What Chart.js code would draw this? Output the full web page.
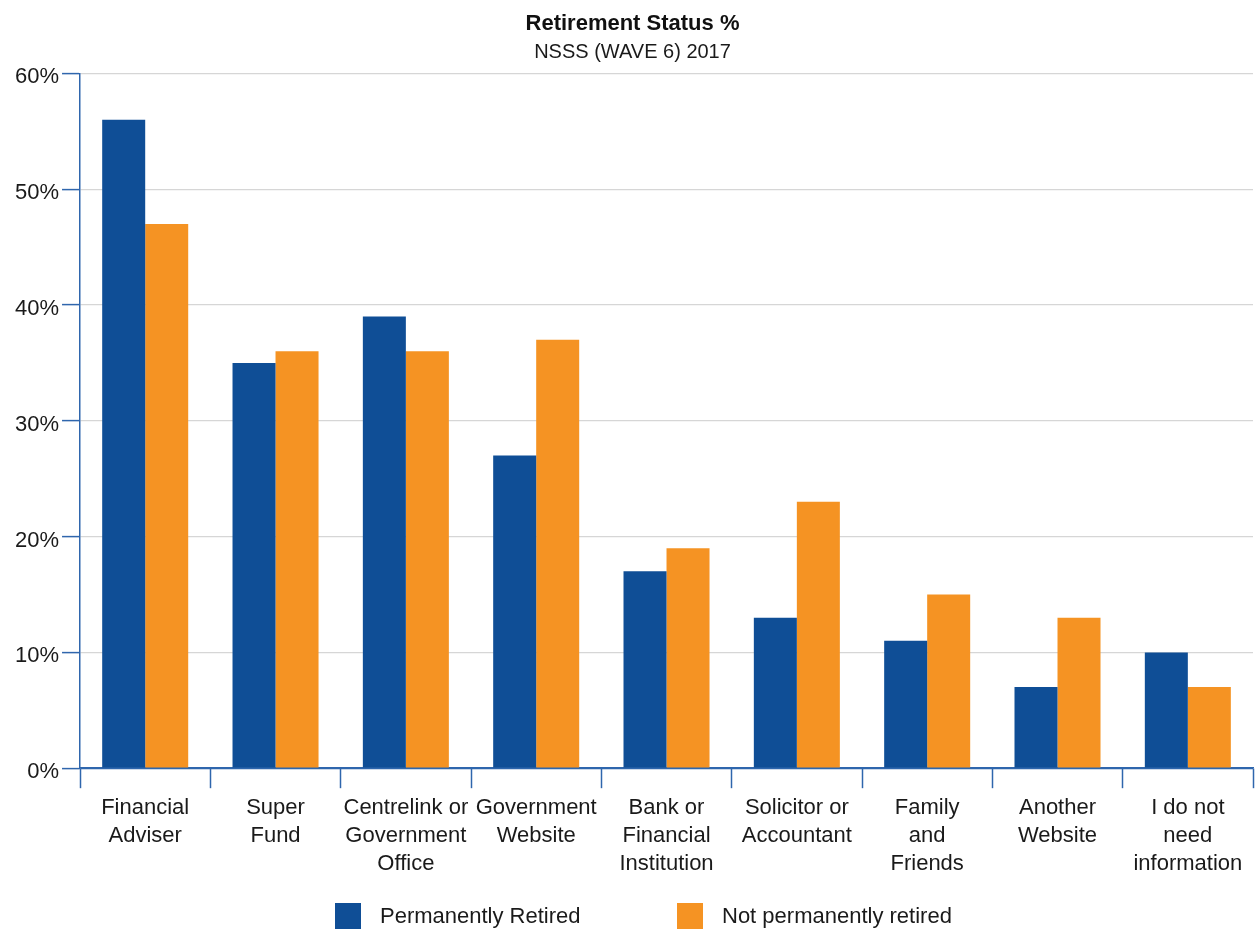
<!DOCTYPE html>
<html>
<head>
<meta charset="utf-8">
<script src="https://cdn.jsdelivr.net/npm/chart.js@4.4.1/dist/chart.umd.min.js"></script>
<style>
	body { margin: 0; background: #fff; }
	#wrap { position: relative; width: 1255px; height: 930px; }
	#legend { position: absolute; left: 0; top: 903px; width: 1255px; height: 28px; }
	.legend-item { position: absolute; top: 0; display: flex; align-items: center; font: 22px 'Liberation Sans', Arial, sans-serif; color: #1a1a1a; }
	.legend-box { width: 26px; height: 26px; margin-right: 19px; }
</style>
</head>
<body>
<div id="wrap">
	<canvas id="retirement"></canvas>
	<div id="legend"></div>
</div>
<script>
// Where people go for retirement information, by retirement status
const categories = [
	[ 'Financial', 'Adviser' ],
	[ 'Super', 'Fund' ],
	[ 'Centrelink or', 'Government', 'Office' ],
	[ 'Government', 'Website' ],
	[ 'Bank or', 'Financial', 'Institution' ],
	[ 'Solicitor or', 'Accountant' ],
	[ 'Family', 'and', 'Friends' ],
	[ 'Another', 'Website' ],
	[ 'I do not', 'need', 'information' ]
];
const permanentlyRetired = [ 56, 35, 39, 27, 17, 13, 11, 7, 10 ];
const notPermanentlyRetired = [ 47, 36, 36, 37, 19, 23, 15, 13, 7 ];
const yTicks = [ 0, 10, 20, 30, 40, 50, 60 ];

const BLUE = '#0f4e96';
const ORANGE = '#f59323';
const AXIS = '#2f66ad';
const FONT = "'Liberation Sans', Arial, sans-serif";

const ctx = document.getElementById( 'retirement' ).getContext( '2d' );
const chart = new Chart( ctx, {
	type: 'bar',
	data: {
		labels: categories,
		datasets: [
			{
				label: 'Permanently Retired',
				backgroundColor: BLUE,
				data: permanentlyRetired
			},
			{
				label: 'Not permanently retired',
				backgroundColor: ORANGE,
				data: notPermanentlyRetired
			}
		]
	},
	options: {
		responsive: true,
		maintainAspectRatio: false,
		animation: false,
		layout: {
			padding: { left: 12, right: 2, top: 0, bottom: 46 }
		},
		datasets: {
			bar: {
				categoryPercentage: 0.66,
				barPercentage: 1
			}
		},
		plugins: {
			legend: { display: false },
			tooltip: { enabled: false },
			title: {
				display: true,
				text: 'Retirement Status %',
				color: '#111',
				font: { family: FONT, size: 22, weight: 'bold' },
				padding: { top: 11, bottom: 3 }
			},
			subtitle: {
				display: true,
				text: 'NSSS (WAVE 6) 2017',
				color: '#1a1a1a',
				font: { family: FONT, size: 20 },
				padding: { top: 0, bottom: 9 }
			}
		},
		scales: {
			x: {
				grid: {
					offset: true,
					drawOnChartArea: false,
					tickLength: 20,
					tickColor: AXIS,
					tickWidth: 1.5
				},
				border: { color: AXIS, width: 1.5 },
				ticks: {
					color: '#1a1a1a',
					padding: 6,
					maxRotation: 0,
					autoSkip: false,
					font: { family: FONT, size: 22, lineHeight: 1.27 }
				}
			},
			y: {
				min: 0,
				max: 60,
				afterBuildTicks: function( axis ) {
					axis.ticks = yTicks.map( function( v ) { return { value: v }; } );
				},
				grid: {
					color: function( c ) {
						return c.tick && c.tick.value === 0 ? AXIS : '#d6d6d6';
					},
					lineWidth: 1.2,
					tickLength: 18,
					tickColor: AXIS,
					tickWidth: 1.5
				},
				border: { color: AXIS, width: 1.5 },
				ticks: {
					color: '#1a1a1a',
					padding: 3,
					labelOffset: 4,
					font: { family: FONT, size: 22 },
					callback: function( v ) { return v + '%'; }
				}
			}
		}
	}
} );

// Legend drawn as plain markup under the canvas
const legendLeft = [ 335, 677 ];
const legendEl = document.getElementById( 'legend' );
chart.data.datasets.forEach( function( ds, i ) {
	legendEl.innerHTML += '<div class="legend-item" style="left:' + legendLeft[i] + 'px">' +
		'<span class="legend-box" style="background:' + ds.backgroundColor + '"></span>' +
		'<span>' + ds.label + '</span></div>';
} );
</script>
</body>
</html>
